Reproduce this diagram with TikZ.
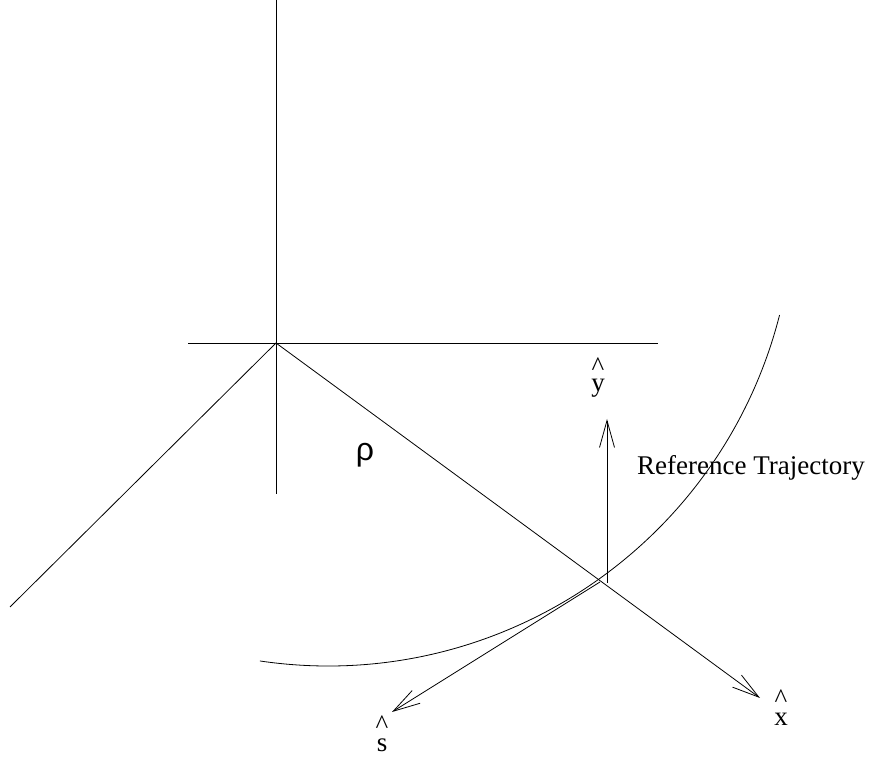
\documentclass[tikz,border=0pt]{standalone}
\usepackage{fontspec}
\setmainfont{Liberation Serif}
\newfontfamily\rhofont{Liberation Sans}
\usetikzlibrary{arrows.meta}

\begin{document}
\begin{tikzpicture}[x=1pt, y=1pt,
axis/.style={line width=0.8pt},
vec/.style={line width=0.8pt, -{Straight Barb[length=27pt, width=15pt, line width=0.8pt]}},
lbl/.style={font=\fontsize{27}{30}\selectfont, inner sep=1pt},
hatlbl/.style={lbl, align=center}
]
\useasboundingbox (0,0) rectangle (873,759);
% axes through the centre
\coordinate (O) at (276,416);
\coordinate (top) at (276,759);
\coordinate (bot) at (276,265);
\coordinate (west) at (188,416);
\coordinate (east) at (658,416);
\coordinate (diag) at (10,152);
\draw[axis] (top) -- (bot);
\draw[axis] (west) -- (east);
\draw[axis] (O) -- (diag);
% reference trajectory
\draw[axis] (328,559) ++(261.6:466) arc[start angle=261.6, end angle=345.7, radius=466];
% moving frame
\coordinate (P) at (600,177);
\coordinate (ybase) at (607,176);
\coordinate (xtip) at (760,61);
\coordinate (stip) at (392,47);
\coordinate (ytip) at (607,340);
\draw[vec] (O) -- (xtip);
\draw[vec] (P) -- (stip);
\draw[vec] (ybase) -- (ytip);
% labels
\node[lbl, font=\fontsize{32}{34}\selectfont] (rho) at (365,304) {\rhofont ρ};
\node[lbl, anchor=west] (traj) at (636,291) {Reference Trajectory};
\node[hatlbl] (yhat) at (598,381) {\textasciicircum\\[-14pt]y};
\node[hatlbl] (xhat) at (781,51) {\textasciicircum\\[-12pt]x};
\node[hatlbl] (shat) at (382,25) {\textasciicircum\\[-12pt]s};
\end{tikzpicture}
\end{document}
